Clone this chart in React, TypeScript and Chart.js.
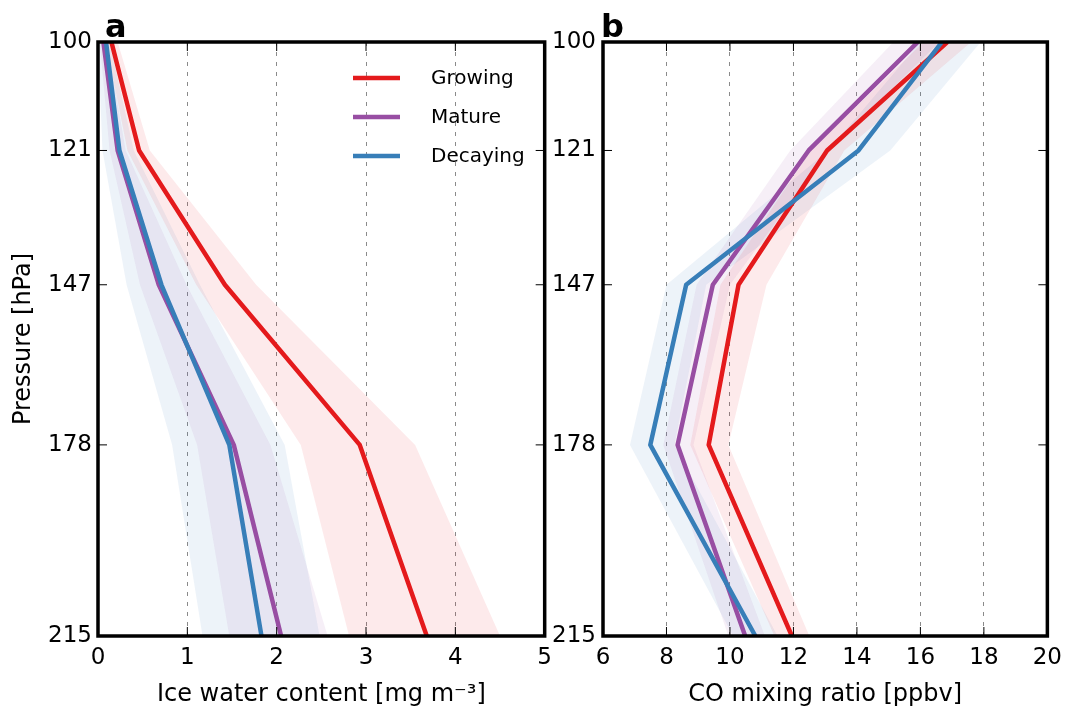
import React, { useEffect, useRef } from 'react';
import { Chart, registerables } from 'chart.js';

Chart.register(...registerables);

// ---------- data ----------
const pressures = [100, 121, 147, 178, 215];
const pressureTicks = [100, 121, 147, 178, 215];
const seriesNames = ['Growing', 'Mature', 'Decaying'];

// Panel a: ice water content [mg m-3]
const growingIWC = [0.15, 0.46, 1.42, 2.93, 3.68];
const matureIWC = [0.06, 0.22, 0.68, 1.52, 2.05];
const decayingIWC = [0.09, 0.24, 0.71, 1.47, 1.83];
const growingIWCLow = [0.09, 0.33, 1.1, 2.27, 2.81];
const growingIWCHigh = [0.22, 0.58, 1.77, 3.55, 4.5];
const matureIWCLow = [0.02, 0.13, 0.47, 1.11, 1.47];
const matureIWCHigh = [0.1, 0.31, 0.99, 1.93, 2.57];
const decayingIWCLow = [0.0, 0.05, 0.32, 0.83, 1.17];
const decayingIWCHigh = [0.13, 0.4, 1.14, 2.09, 2.48];

// Panel b: CO mixing ratio [ppbv]
const growingCO = [16.85, 13.06, 10.27, 9.33, 11.95];
const matureCO = [15.92, 12.48, 9.46, 8.35, 10.48];
const decayingCO = [16.68, 14.05, 8.62, 7.49, 10.8];
const growingCOLow = [16.1, 12.55, 9.7, 8.75, 11.4];
const growingCOHigh = [17.6, 13.6, 11.15, 9.95, 12.5];
const matureCOLow = [15.15, 11.9, 8.95, 7.9, 9.95];
const matureCOHigh = [16.6, 13.1, 10.0, 8.85, 11.1];
const decayingCOLow = [16.0, 13.1, 8.0, 6.85, 10.1];
const decayingCOHigh = [17.9, 15.05, 9.25, 8.25, 11.5];

// ---------- styles ----------
const FONT = '"DejaVu Sans", sans-serif';
const COLORS = ['#e41a1c', '#984ea3', '#377eb8'];
const BAND_COLORS = ['rgba(228,26,28,0.09)', 'rgba(152,78,163,0.09)', 'rgba(55,126,184,0.09)'];

const pts = (xs: number[]) => xs.map((v, i) => ({ x: v, y: pressures[i] }));
const band = (lo: number[], hi: number[]) => [...pts(lo), ...pts(hi).reverse()];

function makeDatasets(mids: number[][], los: number[][], his: number[][]) {
  const bands = mids.map((_, i) => ({
    label: seriesNames[i] + ' range',
    data: band(los[i], his[i]),
    showLine: true,
    fill: 'shape',
    backgroundColor: BAND_COLORS[i],
    borderColor: 'transparent',
    borderWidth: 0,
    pointRadius: 0,
    order: 10 + i,
  }));
  const lines = mids.map((m, i) => ({
    label: seriesNames[i],
    data: pts(m),
    showLine: true,
    fill: false,
    borderColor: COLORS[i],
    backgroundColor: COLORS[i],
    borderWidth: 4.5,
    borderJoinStyle: 'round',
    pointRadius: 0,
    order: 3 - i,
  }));
  return [...bands, ...lines];
}

function framePlugin(label: string, labelX: number, legend: boolean) {
  return {
    id: 'frame' + label,
    afterDatasetsDraw(chart: any) {
      const { ctx, chartArea } = chart;
      const { left, right, top, bottom } = chartArea;
      const xs = chart.scales.x;
      const ys = chart.scales.y;
      ctx.save();
      ctx.strokeStyle = '#000';
      ctx.lineWidth = 1;
      ctx.setLineDash([]);
      ctx.beginPath();
      for (const t of xs.ticks) {
        const px = xs.getPixelForValue(t.value);
        ctx.moveTo(px, bottom);
        ctx.lineTo(px, bottom - 9);
        ctx.moveTo(px, top);
        ctx.lineTo(px, top + 9);
      }
      for (const t of ys.ticks) {
        const py = ys.getPixelForValue(t.value);
        ctx.moveTo(left, py);
        ctx.lineTo(left + 9, py);
        ctx.moveTo(right, py);
        ctx.lineTo(right - 9, py);
      }
      ctx.stroke();
      ctx.lineWidth = 3.5;
      ctx.strokeRect(left, top, right - left, bottom - top);

      ctx.fillStyle = '#000';
      ctx.font = 'bold 32px ' + FONT;
      ctx.textBaseline = 'alphabetic';
      ctx.textAlign = 'left';
      ctx.fillText(label, labelX, 37);

      if (legend) {
        const rows = [78, 117, 156];
        ctx.font = '20px ' + FONT;
        ctx.textBaseline = 'middle';
        rows.forEach((yy, i) => {
          ctx.strokeStyle = COLORS[i];
          ctx.lineWidth = 4.5;
          ctx.beginPath();
          ctx.moveTo(353, yy);
          ctx.lineTo(400, yy);
          ctx.stroke();
          ctx.fillStyle = '#000';
          ctx.fillText(seriesNames[i], 431, yy + 1);
        });
      }
      ctx.restore();
    },
  };
}

function makeConfig(p: {
  mids: number[][]; los: number[][]; his: number[][];
  xMin: number; xMax: number; step: number; xTitle: string;
  yTitle: string | null; yWidth: number; padRight: number; label: string; labelX: number; legend: boolean; tickPad: number;
}) {
  return {
    type: 'scatter',
    data: { datasets: makeDatasets(p.mids, p.los, p.his) },
    options: {
      animation: false,
      responsive: true,
      maintainAspectRatio: false,
      events: [],
      layout: { padding: { left: 0, right: p.padRight, top: 42, bottom: 0 } },
      plugins: { legend: { display: false }, tooltip: { enabled: false } },
      scales: {
        x: {
          type: 'linear',
          position: 'bottom',
          min: p.xMin,
          max: p.xMax,
          ticks: { stepSize: p.step, color: '#000', font: { family: FONT, size: 23 }, padding: 8, maxRotation: 0 },
          grid: { display: true, drawTicks: false, color: '#8a8a8a', lineWidth: 1 },
          border: { display: false, dash: [4, 6] },
          title: { display: true, text: p.xTitle, color: '#000', font: { family: FONT, size: 24 }, padding: { top: 0, bottom: 1 } },
          afterFit: (s: any) => { s.height = 74; },
        },
        y: {
          type: 'linear',
          position: 'left',
          min: 100,
          max: 215,
          reverse: true,
          afterBuildTicks: (s: any) => { s.ticks = pressureTicks.map((v) => ({ value: v })); },
          ticks: { color: '#000', font: { family: FONT, size: 23 }, padding: p.tickPad },
          grid: { display: false, drawTicks: false },
          border: { display: false },
          title: p.yTitle
            ? { display: true, text: p.yTitle, color: '#000', font: { family: FONT, size: 24 }, padding: { top: 9, bottom: 0 } }
            : { display: false },
          afterFit: (s: any) => { s.width = p.yWidth; },
        },
      },
    },
    plugins: [framePlugin(p.label, p.labelX, p.legend)],
  } as any;
}

function Panel({ left, width, config }: { left: number; width: number; config: () => any }) {
  const ref = useRef<HTMLCanvasElement>(null);
  useEffect(() => {
    const chart = new Chart(ref.current as HTMLCanvasElement, config());
    return () => chart.destroy();
  }, []);
  return (
    <div style={{ position: 'absolute', left, top: 0, width, height: 710 }}>
      <canvas ref={ref} />
    </div>
  );
}

export default function App() {
  const cfgA = () =>
    makeConfig({
      mids: [growingIWC, matureIWC, decayingIWC],
      los: [growingIWCLow, matureIWCLow, decayingIWCLow],
      his: [growingIWCHigh, matureIWCHigh, decayingIWCHigh],
      xMin: 0, xMax: 5, step: 1,
      xTitle: 'Ice water content [mg m⁻³]',
      yTitle: 'Pressure [hPa]',
      yWidth: 98, padRight: 14, label: 'a', labelX: 105, legend: true, tickPad: 6,
    });
  const cfgB = () =>
    makeConfig({
      mids: [growingCO, matureCO, decayingCO],
      los: [growingCOLow, matureCOLow, decayingCOLow],
      his: [growingCOHigh, matureCOHigh, decayingCOHigh],
      xMin: 6, xMax: 20, step: 2,
      xTitle: 'CO mixing ratio [ppbv]',
      yTitle: null,
      yWidth: 63, padRight: 22, label: 'b', labelX: 61, legend: false, tickPad: 7,
    });
  return (
    <div style={{ position: 'absolute', left: 0, top: 0, width: 1070, height: 710, background: '#fff' }}>
      <Panel left={0} width={560} config={cfgA} />
      <Panel left={540} width={530} config={cfgB} />
    </div>
  );
}
